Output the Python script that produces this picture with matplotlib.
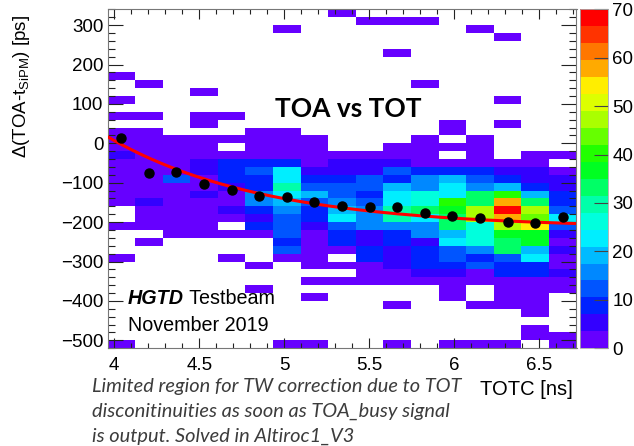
import numpy as np
import matplotlib.pyplot as plt
from matplotlib.colors import ListedColormap, BoundaryNorm
from matplotlib.ticker import MultipleLocator

plt.rcParams['font.family'] = ['Liberation Sans', 'DejaVu Sans']
plt.rcParams['mathtext.fontset'] = 'custom'
plt.rcParams['mathtext.rm'] = 'Liberation Sans'
plt.rcParams['mathtext.it'] = 'Liberation Sans:italic'

# TOTC bins [ns] and TOA - t_SiPM bins [ps]
tot_edges = np.linspace(3.96, 6.72, 18)
dt_edges = np.arange(-520, 341, 20)

# entries per bin, first row is 320..340 ps, last row is -520..-500 ps
counts = [
    [0, 0, 0, 0, 0, 0, 0, 0, 1, 0, 0, 0, 0, 0, 0, 0, 0],
    [0, 0, 0, 0, 0, 0, 0, 0, 0, 1, 1, 1, 0, 0, 0, 0, 0],
    [0, 0, 0, 0, 0, 0, 1, 0, 0, 0, 0, 0, 0, 1, 0, 0, 0],
    [0, 0, 0, 0, 0, 0, 0, 0, 0, 0, 0, 0, 0, 0, 1, 0, 0],
    [0, 0, 0, 0, 0, 0, 0, 0, 0, 0, 0, 0, 0, 0, 0, 0, 0],
    [0, 0, 0, 0, 0, 0, 0, 0, 0, 0, 1, 0, 0, 0, 0, 0, 0],
    [0, 0, 0, 0, 0, 0, 0, 0, 0, 0, 0, 0, 0, 0, 0, 0, 0],
    [0, 0, 0, 0, 0, 0, 0, 0, 0, 0, 0, 0, 0, 0, 0, 0, 0],
    [1, 0, 0, 0, 0, 0, 0, 0, 0, 0, 0, 0, 0, 0, 0, 0, 0],
    [0, 1, 0, 0, 0, 0, 0, 0, 0, 0, 0, 1, 0, 0, 0, 0, 0],
    [0, 0, 0, 1, 0, 0, 0, 0, 0, 0, 0, 0, 0, 0, 0, 0, 0],
    [1, 0, 0, 0, 0, 0, 0, 0, 0, 0, 0, 0, 0, 0, 1, 0, 0],
    [0, 0, 0, 0, 0, 0, 0, 0, 0, 0, 0, 0, 0, 0, 0, 0, 0],
    [1, 1, 0, 1, 1, 0, 0, 0, 0, 0, 0, 0, 0, 0, 0, 0, 0],
    [0, 0, 0, 1, 0, 0, 0, 0, 0, 0, 0, 0, 1, 0, 1, 0, 0],
    [1, 1, 0, 0, 0, 1, 1, 0, 0, 0, 0, 0, 1, 0, 0, 0, 0],
    [1, 1, 1, 1, 1, 1, 1, 1, 0, 0, 0, 1, 0, 1, 0, 0, 0],
    [2, 2, 2, 2, 0, 2, 2, 2, 0, 0, 1, 2, 1, 2, 0, 0, 0],
    [5, 2, 2, 2, 2, 2, 2, 2, 2, 2, 2, 2, 0, 2, 0, 2, 2],
    [2, 2, 2, 5, 9, 8, 9, 2, 4, 5, 5, 3, 2, 2, 2, 2, 0],
    [2, 2, 2, 4, 7, 12, 23, 4, 5, 5, 12, 8, 9, 7, 4, 5, 2],
    [2, 2, 12, 2, 7, 10, 23, 9, 7, 12, 9, 16, 19, 12, 7, 5, 4],
    [2, 2, 2, 2, 5, 8, 28, 12, 12, 12, 19, 16, 23, 16, 19, 9, 5],
    [2, 2, 2, 5, 2, 14, 22, 19, 12, 7, 23, 26, 24, 33, 40, 19, 7],
    [2, 5, 2, 2, 2, 14, 19, 12, 16, 12, 23, 26, 40, 33, 58, 33, 9],
    [0, 2, 2, 2, 5, 7, 16, 7, 20, 16, 28, 32, 36, 47, 68, 47, 12],
    [0, 2, 2, 2, 2, 5, 12, 7, 23, 16, 30, 23, 32, 47, 57, 45, 23],
    [2, 2, 2, 2, 0, 9, 12, 5, 12, 14, 14, 16, 33, 26, 47, 54, 12],
    [0, 0, 2, 2, 2, 2, 11, 2, 7, 4, 9, 16, 19, 26, 37, 38, 4],
    [0, 2, 0, 0, 0, 0, 9, 2, 7, 5, 7, 5, 23, 26, 33, 35, 2],
    [0, 0, 0, 0, 0, 0, 12, 2, 2, 9, 4, 9, 12, 16, 33, 19, 4],
    [2, 0, 0, 0, 2, 0, 2, 2, 0, 7, 5, 9, 12, 7, 12, 23, 2],
    [0, 0, 0, 0, 0, 2, 0, 2, 2, 2, 5, 7, 9, 12, 7, 9, 2],
    [0, 0, 0, 0, 0, 0, 0, 0, 0, 2, 2, 5, 5, 2, 7, 7, 4],
    [0, 0, 0, 0, 0, 0, 0, 2, 2, 2, 2, 2, 2, 2, 2, 2, 2],
    [0, 0, 0, 0, 0, 1, 0, 0, 0, 0, 0, 0, 1, 0, 1, 1, 1],
    [0, 0, 0, 0, 0, 0, 0, 1, 0, 0, 0, 0, 1, 0, 1, 1, 0],
    [0, 0, 0, 0, 0, 0, 0, 0, 0, 0, 1, 0, 0, 1, 1, 1, 0],
    [0, 0, 0, 0, 0, 0, 0, 0, 0, 0, 0, 0, 0, 0, 0, 1, 0],
    [0, 0, 0, 0, 0, 0, 0, 0, 0, 0, 0, 0, 0, 0, 0, 0, 0],
    [0, 0, 0, 0, 0, 0, 0, 0, 0, 0, 0, 0, 0, 0, 0, 1, 0],
    [0, 0, 0, 0, 0, 0, 0, 0, 0, 0, 0, 0, 0, 0, 0, 1, 1],
    [1, 0, 0, 0, 0, 0, 1, 1, 0, 0, 1, 0, 1, 1, 1, 0, 1],
]

# profile: mean TOA - t_SiPM per TOTC bin [ps]
profile_mean = [14, -76, -74, -104, -118, -134, -135, -149, -159,
                -162, -162, -178, -185, -190, -200, -203, -188]

# time-walk fit p0 + p1*exp(-p2*(TOTC - 4))
fit_p0 = -215.0
fit_p1 = 222.0
fit_p2 = 1.09

# ROOT-like rainbow palette, 20 contours between 0 and 70
palette = ['#6600ff', '#3300ff', '#0022ff', '#0055ff', '#0088ff',
           '#00bbff', '#00eeff', '#00ffdd', '#00ffaa', '#00ff66',
           '#00ff22', '#22ff00', '#66ff00', '#aaff00', '#ddff00',
           '#ffee00', '#ffaa00', '#ff7700', '#ff3300', '#ff0000']
cmap = ListedColormap(palette)
norm = BoundaryNorm(np.linspace(0, 70, 21), cmap.N)

note_lines = ['Limited region for TW correction due to TOT',
              'disconitinuities as soon as TOA_busy signal',
              'is output. Solved in Altiroc1_V3']

W, H = 634, 446
fig = plt.figure(figsize=(W / 100, H / 100), dpi=100)
fig.patch.set_facecolor('white')


def fx(px):
    return px / W


def fy(py):
    return 1 - py / H


x0, x1, ytop, ybot = 107.5, 576.5, 9.4, 348.2
ax = fig.add_axes([fx(x0), fy(ybot), (x1 - x0) / W, (ybot - ytop) / H])
cax = fig.add_axes([fx(579.5), fy(ybot), 28 / W, (ybot - ytop) / H])

grid = np.ma.masked_equal(np.array(counts, dtype=float)[::-1], 0)
mesh = ax.pcolormesh(tot_edges, dt_edges, grid, cmap=cmap, norm=norm)

centers = 0.5 * (tot_edges[:-1] + tot_edges[1:])
xf = np.linspace(tot_edges[0], tot_edges[-1], 300)
ax.plot(xf, fit_p0 + fit_p1 * np.exp(-fit_p2 * (xf - 4)), color='red', lw=2.2, zorder=3)
ax.plot(centers, profile_mean, 'o', color='black', ms=6.5, zorder=4)

ax.set_xlim(tot_edges[0], tot_edges[-1])
ax.set_ylim(dt_edges[0], dt_edges[-1])
ax.xaxis.set_major_locator(MultipleLocator(0.5))
ax.xaxis.set_minor_locator(MultipleLocator(0.1))
ax.yaxis.set_major_locator(MultipleLocator(100))
ax.yaxis.set_minor_locator(MultipleLocator(20))
ax.set_xticks([4, 4.5, 5, 5.5, 6, 6.5])
ax.set_xticklabels(['4', '4.5', '5', '5.5', '6', '6.5'])
ax.tick_params(which='both', direction='in', top=True, right=True,
               color='#222222', width=0.8, labelsize=13.5)
ax.xaxis.set_tick_params(which='major', length=7.2, pad=6)
ax.xaxis.set_tick_params(which='minor', length=3.6)
ax.yaxis.set_tick_params(which='major', length=11, pad=3)
ax.yaxis.set_tick_params(which='minor', length=5.2)
for s in ax.spines.values():
    s.set_color('#777777')
    s.set_linewidth(0.8)

cb = fig.colorbar(mesh, cax=cax, ticks=range(0, 71, 10))
cb.outline.set_edgecolor('#aaaaaa')
cb.outline.set_linewidth(0.6)
cax.tick_params(direction='in', length=10, width=0.8, color='#444444',
                labelsize=13.5, pad=3.5)
cax.minorticks_off()

fig.text(fx(22), fy(15), r'$\Delta$(TOA-t$_{\mathrm{SiPM}}$) [ps]',
         rotation=90, ha='center', va='top', fontsize=13.5)
fig.text(fx(573), fy(395), 'TOTC [ns]', ha='right', va='baseline', fontsize=14.5)

fig.text(fx(348), fy(117.3), 'TOA vs TOT', ha='center', va='baseline',
         fontsize=19, fontweight='bold', family='Lato')

t1 = fig.text(fx(128), fy(304.5), 'HGTD', fontsize=14.2, fontweight='bold',
              fontstyle='italic', va='baseline')
ax.annotate(' Testbeam', xy=(1, 0), xycoords=t1, va='bottom', fontsize=14.2)
fig.text(fx(128), fy(330.7), 'November 2019', fontsize=14.2, va='baseline')

for i, line in enumerate(note_lines):
    fig.text(fx(92), fy(391.7 + 25 * i), line, ha='left', va='baseline',
             fontsize=14.4, fontstyle='italic', family='Lato', color='#3c3c3c')

fig.savefig('out.png', dpi=100)
